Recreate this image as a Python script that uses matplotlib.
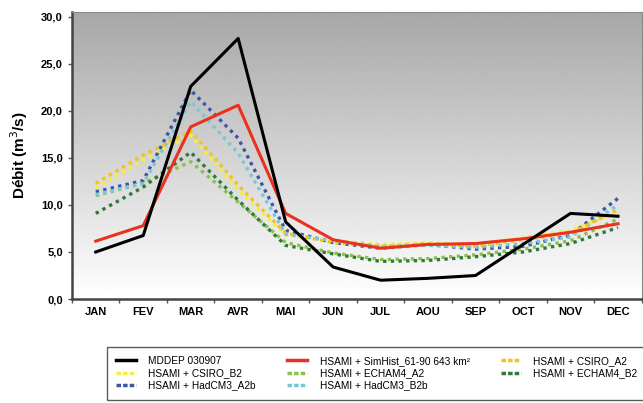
import numpy as np
import matplotlib
matplotlib.use('Agg')
import matplotlib.pyplot as plt
from matplotlib.ticker import FuncFormatter, FixedLocator

plt.rcParams['font.family'] = ['Liberation Sans', 'DejaVu Sans']

# Monthly data (m3/s)
months = ['JAN', 'FEV', 'MAR', 'AVR', 'MAI', 'JUN', 'JUL', 'AOU', 'SEP', 'OCT', 'NOV', 'DEC']
mddep = [5.0, 6.75, 22.6, 27.7, 8.2, 3.4, 2.0, 2.2, 2.5, 5.8, 9.1, 8.8]
simhist = [6.15, 7.8, 18.3, 20.6, 9.1, 6.3, 5.4, 5.8, 5.9, 6.4, 7.1, 8.0]
csiro_a2 = [12.3, 15.3, 17.9, 12.1, 7.0, 6.0, 5.6, 5.9, 5.6, 6.3, 7.0, 9.5]
csiro_b2 = [11.8, 14.8, 17.4, 11.6, 6.8, 6.2, 5.8, 6.0, 5.8, 6.5, 7.3, 9.2]
echam_a2 = [11.0, 12.3, 14.6, 10.3, 6.0, 4.9, 4.2, 4.3, 4.7, 5.3, 6.2, 8.5]
echam_b2 = [9.1, 11.9, 15.6, 10.5, 5.7, 4.8, 4.0, 4.1, 4.5, 5.0, 5.9, 7.6]
hadcm3_a2b = [11.4, 12.6, 22.2, 17.1, 7.3, 6.0, 5.4, 5.8, 5.3, 5.6, 6.8, 10.7]
hadcm3_b2b = [11.1, 12.3, 21.0, 15.5, 6.9, 6.2, 5.6, 5.7, 5.5, 5.9, 6.6, 10.0]

x = np.arange(len(months))

fig = plt.figure(figsize=(6.43, 4.03), dpi=100)
ax = fig.add_axes([0.112, 0.258, 0.886, 0.712])

# gray-to-white background gradient
grad = np.linspace(0, 1, 256).reshape(-1, 1)
ax.imshow(grad, cmap='gray', vmin=-1.9, vmax=1.0, aspect='auto',
          extent=[0, 1, 0, 1], transform=ax.transAxes, origin='upper', zorder=0)

dot = (0, (1.0, 1.3))
ax.plot(x, mddep, color='black', lw=2.2, label='MDDEP 030907', zorder=5)
ax.plot(x, csiro_b2, color='#f6ef3a', lw=2.4, ls=dot, label='HSAMI + CSIRO_B2', zorder=3)
ax.plot(x, hadcm3_a2b, color='#3f55a8', lw=2.4, ls=dot, label='HSAMI + HadCM3_A2b', zorder=3)
ax.plot(x, simhist, color='#e8321e', lw=2.2, label='HSAMI + SimHist_61-90 643 km²', zorder=4)
ax.plot(x, echam_a2, color='#8cc04a', lw=2.4, ls=dot, label='HSAMI + ECHAM4_A2', zorder=3)
ax.plot(x, hadcm3_b2b, color='#74cad6', lw=2.4, ls=dot, label='HSAMI + HadCM3_B2b', zorder=3)
ax.plot(x, csiro_a2, color='#f3c21c', lw=2.4, ls=dot, label='HSAMI + CSIRO_A2', zorder=3)
ax.plot(x, echam_b2, color='#2e7a3a', lw=2.4, ls=dot, label='HSAMI + ECHAM4_B2', zorder=3)

ax.set_xlim(-0.5, 11.5)
ax.set_ylim(0, 30.5)
ax.set_xticks(x)
ax.set_xticklabels(months, fontsize=8, fontweight='bold')
ax.xaxis.set_minor_locator(FixedLocator(np.arange(-0.5, 12, 1)))
ax.tick_params(axis='x', which='major', length=0, pad=6)
ax.tick_params(axis='x', which='minor', length=3, width=1, color='#555555')
ax.set_yticks(np.arange(0, 31, 5))
ax.yaxis.set_major_formatter(FuncFormatter(lambda v, p: f'{v:.1f}'.replace('.', ',')))
ax.tick_params(axis='y', length=3, width=1, color='#555555', labelsize=8)
for lab in ax.get_yticklabels():
    lab.set_fontweight('bold')
ax.set_ylabel('Débit (m$^3$/s)', fontsize=11, fontweight='bold', labelpad=8)

for side in ['left', 'bottom']:
    ax.spines[side].set_linewidth(1.8)
    ax.spines[side].set_color('#444444')
for side in ['top', 'right']:
    ax.spines[side].set_linewidth(0.8)
    ax.spines[side].set_color('#888888')

leg = fig.legend(loc='upper left', bbox_to_anchor=(0.158, 0.152), ncol=3,
                 fontsize=7.3, frameon=True, fancybox=False, edgecolor='#333333',
                 handlelength=2.0, handletextpad=1.2, columnspacing=3.1,
                 labelspacing=0.22, borderpad=0.9)
leg.get_frame().set_linewidth(1.0)
for line in leg.get_lines():
    line.set_linewidth(2.5)
    if line.get_color() not in ('black', '#e8321e'):
        line.set_linestyle((0, (1.3, 0.6)))

fig.savefig('out.png', dpi=100)
